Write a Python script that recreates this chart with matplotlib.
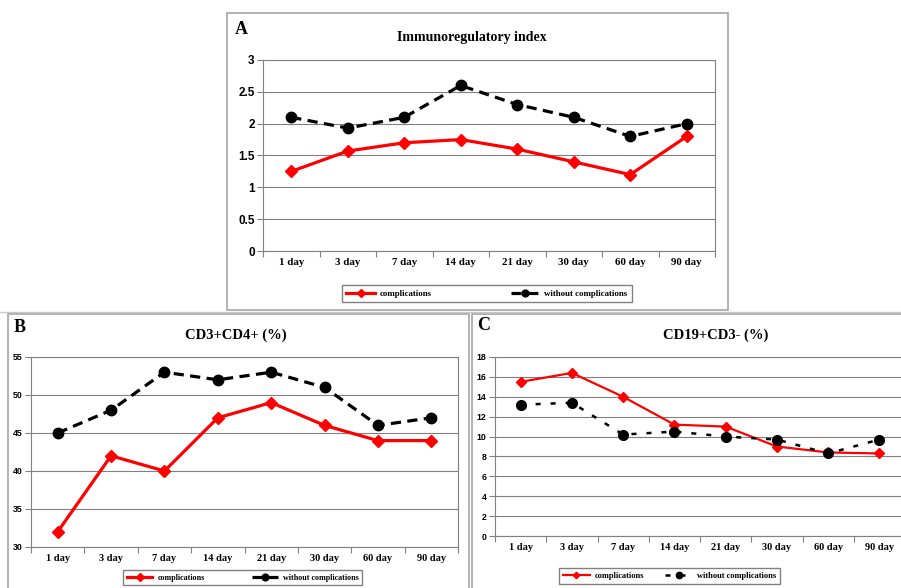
import matplotlib
matplotlib.use("Agg")
import matplotlib.pyplot as plt
from matplotlib.patches import Rectangle
from matplotlib.font_manager import FontProperties
from matplotlib.ticker import FixedLocator, NullFormatter

# ---- data -------------------------------------------------------------
days = ["1 day", "3 day", "7 day", "14 day", "21 day", "30 day", "60 day", "90 day"]
series_labels = ["complications", "without complications"]

iri_compl = [1.25, 1.57, 1.70, 1.75, 1.60, 1.40, 1.20, 1.80]
iri_no_compl = [2.10, 1.93, 2.10, 2.60, 2.30, 2.10, 1.80, 2.00]

cd4_compl = [32, 42, 40, 47, 49, 46, 44, 44]
cd4_no_compl = [45, 48, 53, 52, 53, 51, 46, 47]

cd19_compl = [15.5, 16.4, 14.0, 11.2, 11.0, 9.0, 8.4, 8.3]
cd19_no_compl = [13.2, 13.4, 10.2, 10.5, 10.0, 9.7, 8.3, 9.7]

iri_yticks = [0, 0.5, 1, 1.5, 2, 2.5, 3]
cd4_yticks = [30, 35, 40, 45, 50, 55]
cd19_yticks = [0, 2, 4, 6, 8, 10, 12, 14, 16, 18]

# ---- layout helpers (pixel geometry of a 901x588 canvas) -------------
W, H = 901, 588
fig = plt.figure(figsize=(W / 100, H / 100), dpi=100)
fig.patch.set_facecolor("white")

GRID = "#808080"
FRAME = "#a6a6a6"
SERIF = "Liberation Serif"
SANS = "Liberation Sans"


def rect(x0, y0, x1, y1):
    return [x0 / W, 1 - y1 / H, (x1 - x0) / W, (y1 - y0) / H]


def frame(x0, y0, x1, y1, lw=1.2):
    r = rect(x0, y0, x1, y1)
    fig.add_artist(Rectangle((r[0], r[1]), r[2], r[3], transform=fig.transFigure,
                             fill=False, ec=FRAME, lw=lw))


def panel(area, compl, no_compl, yticks, ylab_size, xlab_size, legend_area,
          legend_size, red_lw, black_lw, black_dash, marker_d, marker_o, fmt):
    ax = fig.add_axes(rect(*area))
    x = list(range(len(days)))
    ax.plot(x, compl, color="#ff0000", lw=red_lw, marker="D", ms=marker_d,
            mec="#ff0000", mfc="#ff0000", zorder=3, label=series_labels[0])
    ax.plot(x, no_compl, color="black", lw=black_lw, dashes=black_dash, marker="o",
            ms=marker_o, mec="black", mfc="black", zorder=3, label=series_labels[1])
    ax.set_xlim(-0.5, len(days) - 0.5)
    ax.set_ylim(yticks[0], yticks[-1])
    ax.set_yticks(yticks)
    ax.set_yticklabels([fmt(v) for v in yticks],
                       fontdict=dict(family=SANS, weight="bold", size=ylab_size))
    ax.set_xticks(x)
    ax.set_xticklabels(days, fontdict=dict(family=SERIF, weight="bold", size=xlab_size))
    ax.xaxis.set_minor_locator(FixedLocator([i - 0.5 for i in range(len(days) + 1)]))
    ax.xaxis.set_minor_formatter(NullFormatter())
    ax.tick_params(axis="x", which="major", length=0, pad=5)
    ax.tick_params(axis="x", which="minor", length=4, color=GRID, width=0.8)
    ax.tick_params(axis="y", length=4, color=GRID, width=0.8, pad=2)
    ax.grid(axis="y", color=GRID, lw=0.8)
    ax.set_axisbelow(True)
    for s in ax.spines.values():
        s.set_color(GRID)
        s.set_linewidth(0.8)
    lr = rect(*legend_area)
    ax.legend(loc="center", bbox_to_anchor=lr, bbox_transform=fig.transFigure,
              mode="expand", ncol=2, numpoints=1, fancybox=False, framealpha=1,
              edgecolor=GRID, handlelength=3.2, borderpad=0.45, handletextpad=0.6,
              markerscale=0.65,
              prop=FontProperties(family=SERIF, weight="bold", size=legend_size))
    return ax


def fmt_plain(v):
    return f"{v:g}"


# ---- panel frames -----------------------------------------------------
frame(227, 13, 728, 310)
frame(8, 314, 469, 600)
frame(472, 314, 910, 600)
fig.add_artist(plt.Line2D([0, 1], [1 - 312 / H] * 2, transform=fig.transFigure,
                          color="#c8c8c8", lw=1.0))

# ---- panel A ----------------------------------------------------------
panel((263, 60, 715, 251), iri_compl, iri_no_compl, iri_yticks, 8.5, 7.8,
      (338, 284, 636, 303), 6.4, 2.3, 2.3, (3.2, 2.0), 5.8, 7.5, fmt_plain)
fig.text(235 / W, 1 - 29 / H, "A", family=SERIF, weight="bold", size=13,
         ha="left", va="center")
fig.text(472 / W, 1 - 37 / H, "Immunoregulatory index", family=SERIF, weight="bold",
         size=10, ha="center", va="center")

# ---- panel B ----------------------------------------------------------
panel((31, 357, 458, 547), cd4_compl, cd4_no_compl, cd4_yticks, 6.3, 7.5,
      (119, 568, 366, 587), 5.8, 2.3, 2.3, (3.2, 2.0), 5.8, 7.5, fmt_plain)
fig.text(14 / W, 1 - 327 / H, "B", family=SERIF, weight="bold", size=13,
         ha="left", va="center")
fig.text(236 / W, 1 - 335 / H, "CD3+CD4+ (%)", family=SERIF, weight="bold",
         size=10.5, ha="center", va="center")

# ---- panel C ----------------------------------------------------------
panel((495, 357, 905, 536), cd19_compl, cd19_no_compl, cd19_yticks, 6.3, 7.5,
      (555, 566, 784, 586), 6.0, 1.6, 1.8, (2.0, 4.0), 5.0, 7, fmt_plain)
fig.text(477 / W, 1 - 326 / H, "C", family=SERIF, weight="bold", size=13,
         ha="left", va="center")
fig.text(716 / W, 1 - 335 / H, "CD19+CD3- (%)", family=SERIF, weight="bold",
         size=10.5, ha="center", va="center")

fig.savefig("out.png", dpi=100, facecolor="white")
